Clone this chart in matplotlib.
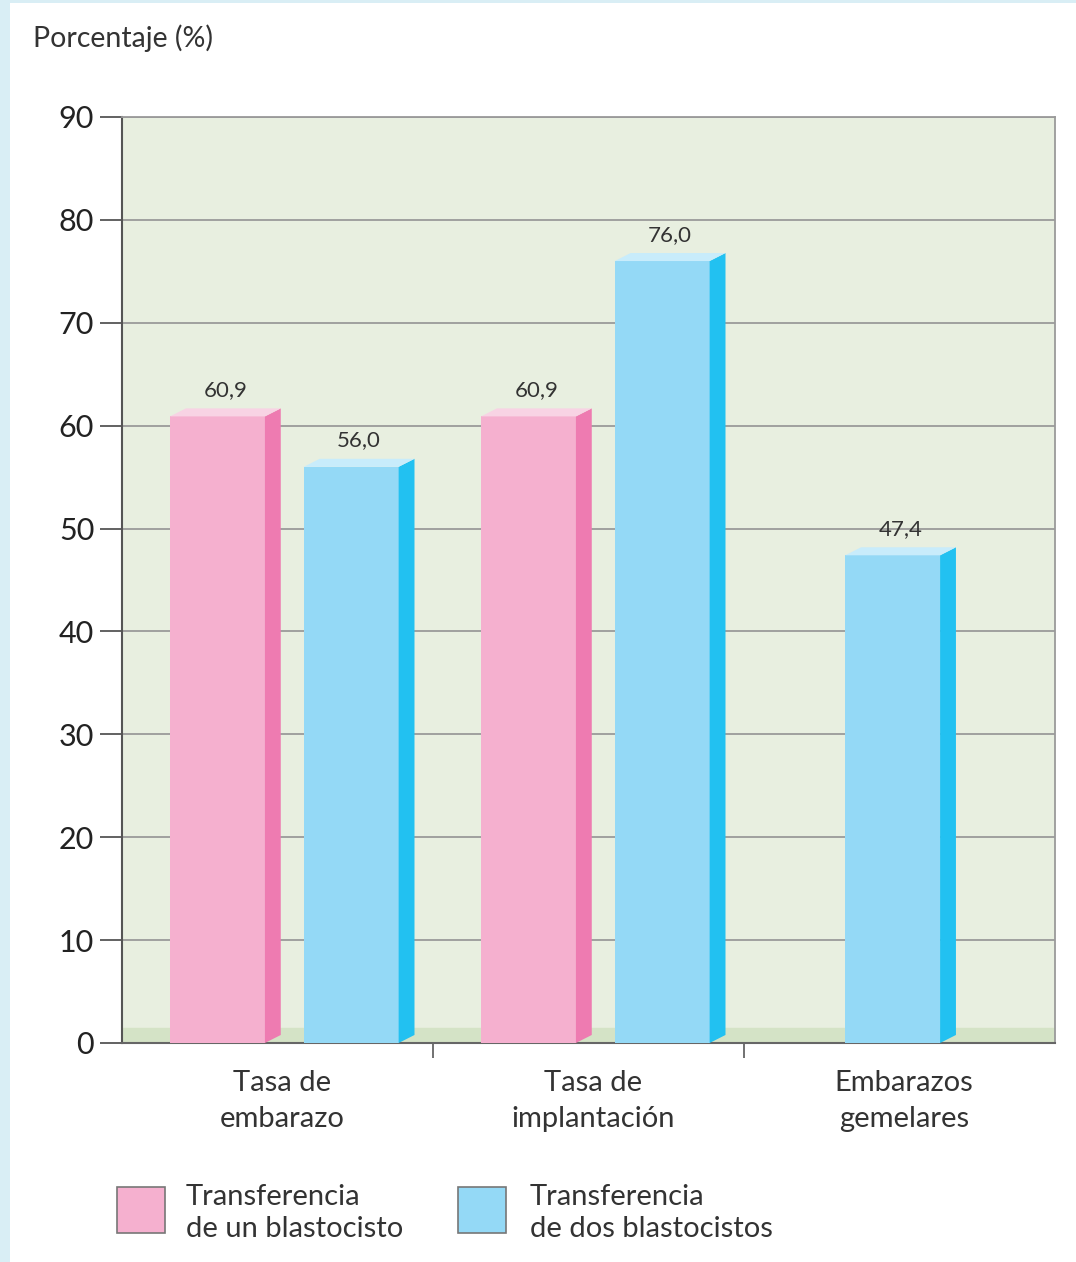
import matplotlib.pyplot as plt
from matplotlib.patches import Polygon, Rectangle

plt.rcParams['font.family'] = ['Lato', 'DejaVu Sans']

categories = ['Tasa de\nembarazo', 'Tasa de\nimplantación', 'Embarazos\ngemelares']
un_blastocisto = [60.9, 60.9, None]
dos_blastocistos = [56.0, 76.0, 47.4]
series_labels = ['Transferencia\nde un blastocisto', 'Transferencia\nde dos blastocistos']
yticks = list(range(0, 91, 10))

pink = ('#f5b0cf', '#ee7bb1', '#f8d3e4')
blue = ('#94d9f6', '#22c1f1', '#c8ecfb')

fig = plt.figure(figsize=(10.76, 12.62), dpi=100)
fig.patch.set_facecolor('white')
# light blue frame on the left and top edges
border = '#d9eef5'
fig.patches.append(Rectangle((0, 0), 10 / 1076, 1, transform=fig.transFigure,
                             facecolor=border, edgecolor='none'))
fig.patches.append(Rectangle((0, 1 - 3 / 1262), 1, 3 / 1262, transform=fig.transFigure,
                             facecolor=border, edgecolor='none'))

ax = fig.add_axes([122 / 1076, 1 - 1043 / 1262, 933 / 1076, 926 / 1262])
ax.set_facecolor('#e8efe0')
ax.set_xlim(-0.5, 2.5)
ax.set_ylim(0, 90)

# floor band
ax.axhspan(0, 1.5, color='#d4e3c6', zorder=1)
for y in yticks[1:]:
    ax.axhline(y, color='#9a9a9a', lw=1.3, zorder=1)

width = 0.305
dx = 0.051
dy = 0.78


def bar3d(xc, v, cols):
    front, side, top = cols
    x0 = xc - width / 2
    x1 = xc + width / 2
    ax.add_patch(Rectangle((x0, 0), width, v, facecolor=front, edgecolor='none', zorder=3))
    ax.add_patch(Polygon([(x1, 0), (x1 + dx, dy), (x1 + dx, v + dy), (x1, v)],
                         closed=True, facecolor=side, edgecolor='none', zorder=3))
    ax.add_patch(Polygon([(x0, v), (x1, v), (x1 + dx, v + dy), (x0 + dx, v + dy)],
                         closed=True, facecolor=top, edgecolor='none', zorder=3))
    ax.text(xc + dx / 2, v + dy + 0.8, f'{v:.1f}'.replace('.', ','), ha='center', va='bottom',
            fontsize=16, color='#333333', zorder=4)


for i, (a, b) in enumerate(zip(un_blastocisto, dos_blastocistos)):
    if a is None:
        bar3d(i - 0.022, b, blue)
    else:
        bar3d(i - 0.193, a, pink)
        bar3d(i + 0.237, b, blue)

ax.set_yticks(yticks)
ax.set_yticklabels([str(t) for t in yticks], fontsize=22, color='#222222')
ax.tick_params(axis='y', length=16, width=1.3, color='#555555', pad=4)
ax.set_xticks([0.5, 1.5])
ax.set_xticklabels([])
ax.tick_params(axis='x', length=11, width=1.3, color='#666666', direction='out')

for i, c in enumerate(categories):
    ax.text(i + 0.015, -2.6, c, ha='center', va='top', fontsize=21, color='#333333',
            linespacing=1.5)

for s in ['top', 'right']:
    ax.spines[s].set_color('#9a9a9a')
    ax.spines[s].set_linewidth(1.3)
ax.spines['left'].set_color('#555555')
ax.spines['left'].set_linewidth(1.5)
ax.spines['bottom'].set_color('#666666')
ax.spines['bottom'].set_linewidth(1.5)

fig.text(33 / 1076, 1 - 38 / 1262, 'Porcentaje (%)', ha='left', va='center', fontsize=20.5,
         color='#333333')

# legend
for (x_box, x_txt), lab, cols in zip([(117, 186), (458, 530)], series_labels, [pink, blue]):
    fig.patches.append(Rectangle((x_box / 1076, 1 - 1233 / 1262), 48 / 1076, 46 / 1262,
                                 transform=fig.transFigure, facecolor=cols[0],
                                 edgecolor='#777777', lw=1.2))
    fig.text(x_txt / 1076, 1 - 1213 / 1262, lab, ha='left', va='center', fontsize=21,
             color='#333333', linespacing=1.3)

fig.savefig('out.png', dpi=100, facecolor=fig.get_facecolor())
